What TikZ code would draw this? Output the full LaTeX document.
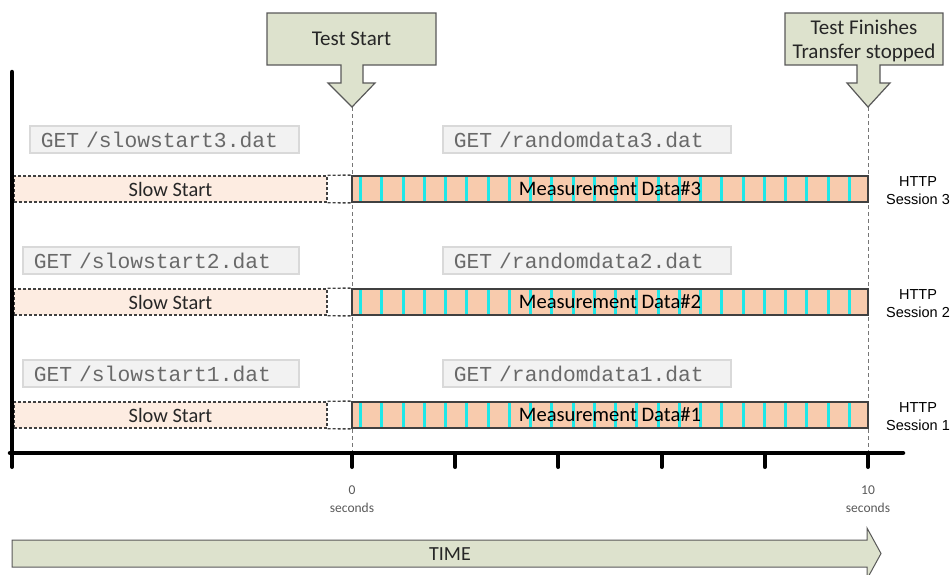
\documentclass[tikz,border=0pt]{standalone}
\usepackage{fontspec}
\setmainfont{Carlito}
\newfontfamily\getfont{Liberation Mono}
\newfontfamily\arialfont{Liberation Sans}
\definecolor{callfill}{RGB}{221,226,205}
\definecolor{calldraw}{RGB}{89,89,89}
\definecolor{peach}{RGB}{248,203,173}
\definecolor{sspeach}{RGB}{253,236,225}
\definecolor{bardraw}{RGB}{64,64,64}
\definecolor{ssdraw}{RGB}{64,64,64}
\definecolor{getfill}{RGB}{242,242,242}
\definecolor{getdraw}{RGB}{217,217,217}
\definecolor{gettext}{RGB}{105,105,105}
\definecolor{txtdark}{RGB}{38,38,38}
\definecolor{stripe}{RGB}{30,232,232}
\definecolor{guide}{RGB}{118,118,118}
\definecolor{ticktext}{RGB}{89,89,89}
\begin{document}
\begin{tikzpicture}[x=1pt,y=-1pt,
  callout/.style={draw=calldraw, fill=callfill, line width=1.2pt, line join=miter},
  calltext/.style={font=\fontsize{21}{26}\selectfont, text=txtdark, inner sep=0pt},
  getbox/.style={draw=getdraw, fill=getfill, line width=1.5pt, minimum height=27pt,
    inner xsep=11pt, inner ysep=0pt, anchor=west, align=left,
    font=\getfont\fontsize{21.3}{24}\selectfont, text=gettext},
  mbar/.style={draw=bardraw, fill=peach, line width=1.8pt, minimum width=516pt,
    minimum height=26pt, inner sep=0pt, font=\fontsize{20.6}{24}\selectfont, text=black,
    path picture={\foreach \k in {0,...,23}
      \fill[stripe] ([xshift={7pt+\k*21.25pt}]path picture bounding box.south west)
        rectangle ++(3pt,26pt);}},
  ssbox/.style={draw=ssdraw, fill=sspeach, dash pattern=on 3pt off 2pt, line width=1.4pt,
    minimum width=313pt, minimum height=26pt, inner sep=0pt,
    font=\fontsize{20.4}{24}\selectfont, text=txtdark},
  ssline/.style={draw=ssdraw, dash pattern=on 3pt off 2pt, line width=1.4pt},
  guideline/.style={draw=guide, line width=1pt, dash pattern=on 4pt off 3pt},
  httptext/.style={font=\arialfont\fontsize{14.5}{18}\selectfont, align=center, text=black, inner sep=0pt},
  axisline/.style={line width=4.5pt, line cap=round, black},
  tickline/.style={line width=4pt, line cap=round, black},
  ticklabel/.style={font=\fontsize{13.5}{16}\selectfont, text=ticktext, inner sep=0pt}
]
\useasboundingbox (0,0) rectangle (952,574);

% guide coordinates
\coordinate (tipA) at (352,107);
\coordinate (tipB) at (868,107);
\coordinate (axA) at (352,453);
\coordinate (axB) at (868,453);
\draw[guideline] (tipA) -- (axA);
\draw[guideline] (tipB) -- (axB);

% callouts
\draw[callout] (267,13) -- (436,13) -- (436,65) -- (363,65) -- (363,83) -- (375,83)
  -- (tipA) -- (328,83) -- (341,83) -- (341,65) -- (267,65) -- cycle;
\node[calltext] (tstart) at (351.5,39) {Test Start};
\draw[callout] (785,13) -- (943,13) -- (943,65) -- (880,65) -- (880,83) -- (890,83)
  -- (tipB) -- (847,83) -- (857,83) -- (857,65) -- (785,65) -- cycle;
\node[calltext] (tfin1) at (864,27) {Test Finishes};
\node[calltext] (tfin2) at (864,53) {Transfer stopped};

% rows
\foreach \r/\y/\gy/\sx/\sw in {3/189/139.5/29/247, 2/302/260.5/22/254, 1/415/373.5/22/254}{
  \node[ssbox] (ss\r) at (170.5,\y) {Slow Start};
  \node[mbar] (m\r) at (610,\y) {Measurement Data\#\r};
  \draw[ssline] (ss\r.north east) -- (m\r.north west);
  \draw[ssline] (ss\r.south east) -- (m\r.south west);
  \node[getbox, text width=\sw pt] (gs\r) at (\sx,\gy) {GET /slowstart\r.dat};
  \node[getbox, text width=266pt] (gr\r) at (442,\gy) {GET /randomdata\r.dat};
  \node[httptext] (h\r) at (918,\y+2) {HTTP\\Session \r};
}

% axes
\coordinate (origin) at (12,453);
\coordinate (ytop) at (12,72);
\coordinate (xend) at (903,453);
\draw[axisline] (ytop) -- (12,455);
\draw[axisline] (10,453) -- (xend);
\foreach \t/\tx in {a/12, b/352, c/455.2, d/558.4, e/661.6, f/764.8, g/868}{
  \coordinate (tk\t) at (\tx,453);
  \draw[tickline] (tk\t) -- ++(0,14);
}
\node[ticklabel] (l0) at (352,490) {0};
\node[ticklabel] (l0s) at (352,508) {seconds};
\node[ticklabel] (l10) at (868,490) {10};
\node[ticklabel] (l10s) at (868,508) {seconds};

% time arrow
\draw[callout, line width=1pt] (12,540) -- (867,540) -- (867,528) -- (881,553.5)
  -- (867,579) -- (867,567) -- (12,567) -- cycle;
\node[font=\fontsize{20}{24}\selectfont, text=txtdark, inner sep=0pt] (time) at (450,554) {TIME};
\end{tikzpicture}
\end{document}
